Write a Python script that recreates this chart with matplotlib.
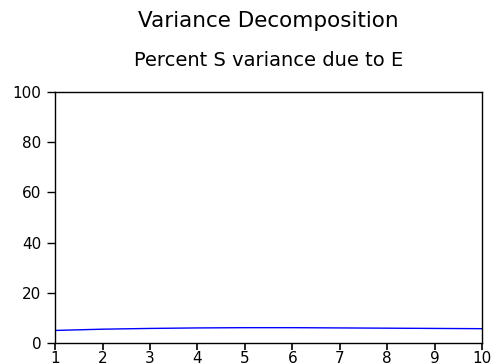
import matplotlib
matplotlib.use('Agg')
import matplotlib.pyplot as plt

plt.rcParams['font.family'] = ['DejaVu Sans']

# forecast horizon and percent of S variance due to E
periods = [1, 2, 3, 4, 5, 6, 7, 8, 9, 10]
pct_e = [5.0, 5.5, 5.8, 6.0, 6.1, 6.1, 6.0, 5.9, 5.8, 5.7]
yticks = [0, 20, 40, 60, 80, 100]

fig = plt.figure(figsize=(4.96, 3.64), dpi=100)
ax = fig.add_axes([0.111, 0.0577, 0.861, 0.690])

ax.plot(periods, pct_e, color='#0000ff', linewidth=1.0)

ax.set_xlim(1, 10)
ax.set_ylim(0, 100)
ax.set_xticks(periods)
ax.set_yticks(yticks)
ax.tick_params(axis='y', direction='out', length=6, width=1, pad=4, labelsize=11)
ax.tick_params(axis='x', direction='out', length=5, width=1.2, pad=1, labelsize=11)
for s in ax.spines.values():
    s.set_linewidth(1.0)

cx = 0.111 + 0.861 / 2
fig.text(cx, 0.942, 'Variance Decomposition', ha='center', va='center', fontsize=15.5)
fig.text(cx, 0.835, 'Percent S variance due to E', ha='center', va='center', fontsize=14)

fig.savefig('out.png', dpi=100)
